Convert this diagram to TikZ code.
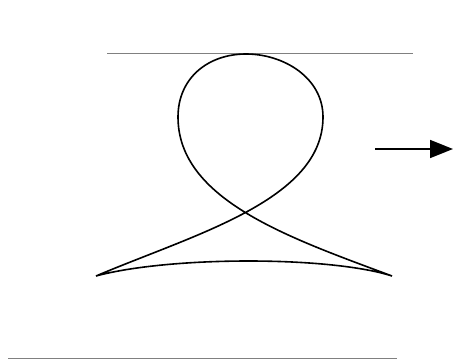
\documentclass[tikz,border=0pt]{standalone}
\usetikzlibrary{arrows.meta}
\begin{document}
\begin{tikzpicture}[x=1pt,y=-1pt,line width=1.6pt]
\useasboundingbox (0,0) rectangle (454,361);
\coordinate (L) at (96,276);
\coordinate (R) at (392,276);
\coordinate (W) at (178,117);
\coordinate (E) at (323,117);
\coordinate (Q) at (246,54);
\coordinate (A) at (375,149);
\coordinate (B) at (453,149);
\draw[gray,line width=0.9pt] (107,53.5) -- (413,53.5);
\draw[gray,line width=0.9pt] (8,358.5) -- (397,358.5);
\draw[line join=miter] (L) .. controls (195,234) and (323,200) .. (E)
  .. controls (323,78) and (284,54) .. (Q)
  .. controls (208,54) and (178,78) .. (W)
  .. controls (178,200) and (290,238) .. (R)
  .. controls (330,256) and (170,256) .. cycle;
\draw[line width=1.8pt,-{Triangle[length=23pt,width=18pt]}] (A) -- (B);
\end{tikzpicture}
\end{document}
